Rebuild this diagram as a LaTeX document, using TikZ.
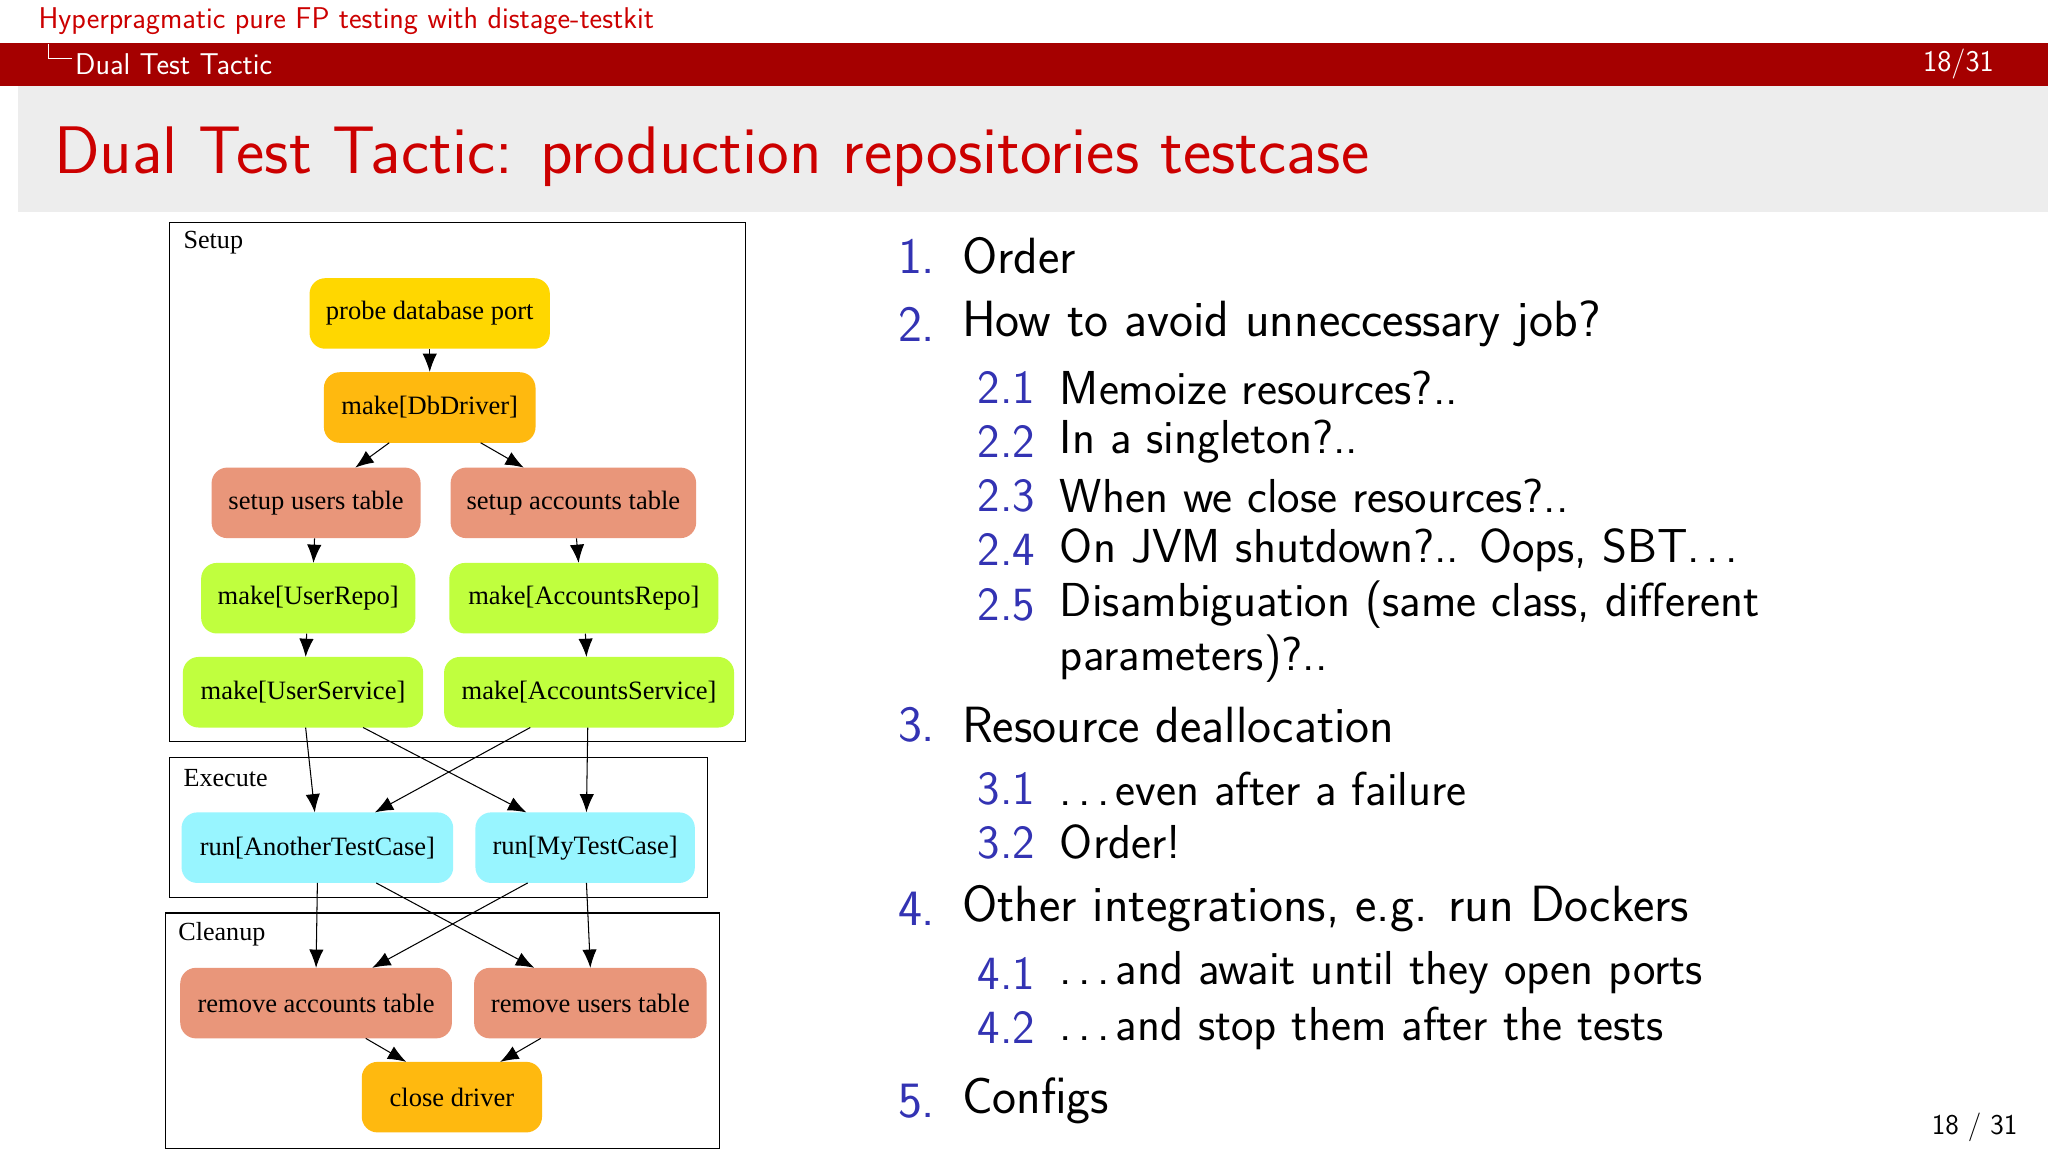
\documentclass[tikz,border=0pt]{standalone}
\usepackage{fontspec}
\newfontfamily\dotfont{Liberation Serif}
\usetikzlibrary{arrows.meta}
\definecolor{barred}{HTML}{A50000}
\definecolor{titlered}{HTML}{CC0000}
\definecolor{enumblue}{HTML}{3333B3}
\definecolor{probe}{HTML}{FFD700}
\definecolor{make}{HTML}{FFB90F}
\definecolor{table}{HTML}{E9967A}
\definecolor{repo}{HTML}{C0FF3E}
\definecolor{run}{HTML}{98F5FF}
\newcommand{\spdots}{.\kern5pt.\kern5pt.\kern4pt}
\begin{document}
\begin{tikzpicture}[x=1pt, y=-1pt]
	\tikzset{job/.style={rounded corners=12pt, inner sep=0, minimum height=54pt, font=\dotfont\fontsize{20.3}{22}\selectfont}}
	\tikzset{ar/.style={-{Latex[length=14pt,width=11pt]}, black, thick}}
	\tikzset{cluster/.style={draw, thick}}
	\tikzset{num/.style={anchor=west, text=enumblue, font=\sffamily\fontsize{39}{42}\selectfont}}
	\tikzset{item/.style={anchor=west, font=\sffamily\fontsize{39}{42}\selectfont}}
	\tikzset{subnum/.style={anchor=west, text=enumblue, font=\sffamily\fontsize{36.5}{40}\selectfont}}
	\tikzset{subitem/.style={anchor=west, font=\sffamily\fontsize{36.5}{40}\selectfont}}
	\useasboundingbox (0,0) rectangle (1568,882);
	\fill[white] (0,0) rectangle (1568,882);
	% header
	\fill[barred] (0,33) rectangle (1568,66);
	\fill[black!7] (14,66) rectangle (1568,162);
	\node[anchor=west, text=titlered, font=\sffamily\fontsize{23}{25}\selectfont] (head) at (26,16) {Hyperpragmatic pure FP testing with distage-testkit};
	\draw[white, thick] (37,34) -- (37,45) -- (55,45);
	\node[anchor=west, text=white, font=\sffamily\fontsize{23}{25}\selectfont] (sec) at (54,49) {Dual Test Tactic};
	\node[anchor=east, text=white, font=\sffamily\fontsize{23}{25}\selectfont] (page) at (1530,49) {18/31};
	\node[anchor=west, text=titlered, font=\sffamily\fontsize{51.5}{55}\selectfont] (title) at (38,120) {Dual Test Tactic: production repositories testcase};
	% clusters
	\draw[cluster] (130,170) rectangle (571,568);
	\draw[cluster] (130,580) rectangle (542,687);
	\draw[cluster] (127,699) rectangle (551,879);
	\node[anchor=west, font=\dotfont\fontsize{20}{22}\selectfont] (lsetup) at (137,186) {Setup};
	\node[anchor=west, font=\dotfont\fontsize{20}{22}\selectfont] (lexec) at (137,596) {Execute};
	\node[anchor=west, font=\dotfont\fontsize{20}{22}\selectfont] (lclean) at (133,715) {Cleanup};
	% jobs
	\node[job, fill=probe, minimum width=184pt] at (329,240) (probe) {probe database port};
	\node[job, fill=make, minimum width=162pt] at (329,312) (driver) {make[DbDriver]};
	\node[job, fill=table, minimum width=160pt] at (242,385) (users) {setup users table};
	\node[job, fill=table, minimum width=188pt] at (439,385) (accounts) {setup accounts table};
	\node[job, fill=repo, minimum width=164pt] at (236,458) (urepo) {make[UserRepo]};
	\node[job, fill=repo, minimum width=206pt] at (447,458) (arepo) {make[AccountsRepo]};
	\node[job, fill=repo, minimum width=184pt] at (232,530) (userv) {make[UserService]};
	\node[job, fill=repo, minimum width=222pt] at (451,530) (aserv) {make[AccountsService]};
	\node[job, fill=run, minimum width=208pt] at (243,649) (another) {run[AnotherTestCase]};
	\node[job, fill=run, minimum width=168pt] at (448,649) (mytest) {run[MyTestCase]};
	\node[job, fill=table, minimum width=208pt] at (242,768) (raccounts) {remove accounts table};
	\node[job, fill=table, minimum width=178pt] at (452,768) (rusers) {remove users table};
	\node[job, fill=make, minimum width=138pt] at (346,840) (close) {close driver};
	% edges
	\draw[ar] (probe) -- (driver);
	\draw[ar] (298,339) -- (272,358);
	\draw[ar] (368,339) -- (401,358);
	\draw[ar] (users) -- (240,431);
	\draw[ar] (accounts) -- (443,431);
	\draw[ar] (urepo) -- (234,503);
	\draw[ar] (arepo) -- (449,503);
	\draw[ar] (234,557) -- (241,622);
	\draw[ar] (278,557) -- (403,622);
	\draw[ar] (406,557) -- (287,622);
	\draw[ar] (450,557) -- (449,622);
	\draw[ar] (243,676) -- (242,741);
	\draw[ar] (288,676) -- (409,741);
	\draw[ar] (404,676) -- (285,741);
	\draw[ar] (449,676) -- (452,741);
	\draw[ar] (280,795) -- (311,813);
	\draw[ar] (414,795) -- (383,813);
	% list
	\node[num] (n1) at (684,196) {1.};
	\node[item] (t1) at (733,196) {Order};
	\node[num] (n2) at (684,248) {2.};
	\node[item] (t2) at (733,248) {How to avoid unneccessary job?};
	\node[subnum] (n21) at (745,297) {2.1};
	\node[subitem] (t21) at (808,297) {Memoize resources?..};
	\node[subnum] (n22) at (745,338) {2.2};
	\node[subitem] (t22) at (808,338) {In a singleton?..};
	\node[subnum] (n23) at (745,380) {2.3};
	\node[subitem] (t23) at (808,380) {When we close resources?..};
	\node[subnum] (n24) at (745,421) {2.4};
	\node[subitem] (t24) at (808,421) {On JVM shutdown?.. Oops, SBT\spdots};
	\node[subnum] (n25) at (745,463) {2.5};
	\node[subitem] (t25) at (808,463) {Disambiguation (same class, different};
	\node[subitem] (t25b) at (808,504) {parameters)?..};
	\node[num] (n3) at (684,555) {3.};
	\node[item] (t3) at (733,555) {Resource deallocation};
	\node[subnum] (n31) at (745,604) {3.1};
	\node[subitem] (t31) at (808,604) {\spdots even after a failure};
	\node[subnum] (n32) at (745,645) {3.2};
	\node[subitem] (t32) at (808,645) {Order!};
	\node[num] (n4) at (684,696) {4.};
	\node[item] (t4) at (733,696) {Other integrations, e.g. run Dockers};
	\node[subnum] (n41) at (745,745) {4.1};
	\node[subitem] (t41) at (808,745) {\spdots and await until they open ports};
	\node[subnum] (n42) at (745,787) {4.2};
	\node[subitem] (t42) at (808,787) {\spdots and stop them after the tests};
	\node[num] (n5) at (684,843) {5.};
	\node[item] (t5) at (733,843) {Configs};
	\node[anchor=east, font=\sffamily\fontsize{22}{24}\selectfont] (foot) at (1548,863) {18 / 31};
\end{tikzpicture}
\end{document}
